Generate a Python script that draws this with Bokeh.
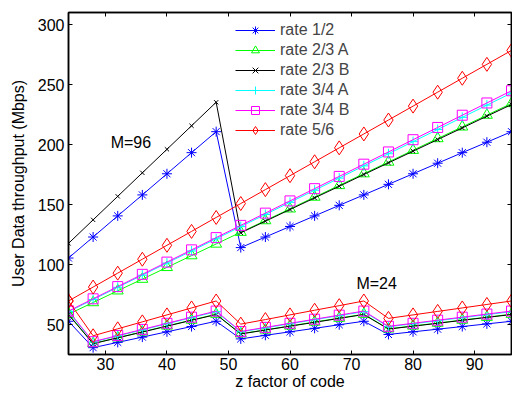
import math
from bokeh.plotting import figure
from bokeh.models import (Range1d, LinearAxis, SingleIntervalTicker, Label,
                          CustomJSTickFormatter)
from bokeh.embed import file_html
from bokeh.resources import INLINE

# ---------------- data ----------------
z_factor = [24, 28, 32, 36, 40, 44, 48, 52, 56, 60, 64, 68, 72, 76, 80, 84, 88, 92, 96]

# M = 96
rate12_m96 = [105.4, 122.9, 140.5, 158.0, 175.6, 193.2, 210.7, 114.1, 122.9, 131.7,
              140.5, 149.3, 158.0, 166.8, 175.6, 184.4, 193.2, 201.9, 210.7]
rate23a_m96 = [58.6, 68.3, 78.1, 87.8, 97.6, 107.4, 117.1, 126.9, 136.6, 146.4,
               156.2, 165.9, 175.7, 185.4, 195.2, 205.0, 214.7, 224.5, 234.2]
rate23b_m96 = [117.6, 137.2, 156.8, 176.4, 196.0, 215.6, 235.2, 126.4, 136.1, 145.8,
               155.5, 165.2, 175.0, 184.7, 194.4, 204.1, 213.8, 223.6, 233.3]
rate34a_m96 = [60.7, 70.8, 81.0, 91.1, 101.2, 111.3, 121.4, 131.6, 141.7, 151.8,
               161.9, 172.0, 182.2, 192.3, 202.4, 212.5, 222.6, 232.8, 242.9]
rate34b_m96 = [61.2, 71.4, 81.6, 91.8, 102.0, 112.2, 122.4, 132.6, 142.8, 153.0,
               163.2, 173.4, 183.6, 193.8, 204.0, 214.2, 224.4, 234.6, 244.8]
rate56_m96 = [69.6, 81.2, 92.8, 104.4, 116.0, 127.6, 139.2, 150.8, 162.4, 174.0,
              185.6, 197.2, 208.8, 220.4, 232.0, 243.6, 255.2, 266.8, 278.4]

# M = 24
rate12_m24 = [52.7, 30.7, 35.1, 39.5, 43.9, 48.3, 52.7, 38.0, 41.0, 43.9,
              46.8, 49.8, 52.7, 41.7, 43.9, 46.1, 48.3, 50.5, 52.7]
rate23a_m24 = [58.6, 34.2, 39.0, 43.9, 48.8, 53.7, 58.6, 42.3, 45.5, 48.8,
               52.1, 55.3, 58.6, 46.4, 48.8, 51.2, 53.7, 56.1, 58.6]
rate23b_m24 = [58.3, 34.0, 38.9, 43.7, 48.6, 53.5, 58.3, 42.1, 45.4, 48.6,
               51.8, 55.1, 58.3, 46.2, 48.6, 51.0, 53.5, 55.9, 58.3]
rate34a_m24 = [60.7, 35.4, 40.5, 45.5, 50.6, 55.7, 60.7, 43.9, 47.2, 50.6,
               54.0, 57.4, 60.7, 48.1, 50.6, 53.1, 55.7, 58.2, 60.7]
rate34b_m24 = [61.2, 35.7, 40.8, 45.9, 51.0, 56.1, 61.2, 44.2, 47.6, 51.0,
               54.4, 57.8, 61.2, 48.5, 51.0, 53.6, 56.1, 58.7, 61.2]
rate56_m24 = [69.6, 40.6, 46.4, 52.2, 58.0, 63.8, 69.6, 50.3, 54.1, 58.0,
              61.9, 65.7, 69.6, 55.1, 58.0, 60.9, 63.8, 66.7, 69.6]

series_names = ["rate 1/2", "rate 2/3 A", "rate 2/3 B", "rate 3/4 A", "rate 3/4 B", "rate 5/6"]
m96_values = [rate12_m96, rate23a_m96, rate23b_m96, rate34a_m96, rate34b_m96, rate56_m96]
m24_values = [rate12_m24, rate23a_m24, rate23b_m24, rate34a_m24, rate34b_m24, rate56_m24]

annotations = [("M=96", 30.85, 201.7), ("M=24", 70.8, 84.4)]

# ---------------- styles ----------------
colors = ["#0000FF", "#00FF00", "#000000", "#00FFFF", "#FF00FF", "#FF0000"]
markers = ["asterisk", "triangle", "x", "cross", "square", "diamond"]
msizes = [10, 11, 6, 10, 10, 14]

FONT = "Liberation Sans"

p = figure(width=512, height=395, output_backend="svg", toolbar_location=None,
           x_range=Range1d(24, 96), y_range=Range1d(25, 310),
           min_border_left=68, min_border_right=1, min_border_top=12,
           min_border_bottom=41)
p.xgrid.visible = False
p.ygrid.visible = False
p.background_fill_color = "white"
p.border_fill_color = "white"
p.outline_line_color = "black"
p.outline_line_width = 1.5

p.xaxis.ticker = SingleIntervalTicker(interval=10, num_minor_ticks=0)
p.yaxis.ticker = SingleIntervalTicker(interval=50, num_minor_ticks=0)
for ax in (p.xaxis[0], p.yaxis[0]):
    ax.major_tick_in = 4
    ax.major_tick_out = 0
    ax.minor_tick_line_color = None
    ax.axis_line_width = 1.5
    ax.major_label_text_font = FONT
    ax.major_label_text_font_size = "16px"
    ax.major_label_text_color = "black"
    ax.axis_label_text_font = FONT
    ax.axis_label_text_font_size = "16px"
    ax.axis_label_text_font_style = "normal"
    ax.axis_label_text_color = "black"
p.xaxis.axis_label = "z factor of code"
p.yaxis.axis_label = "User Data throughput (Mbps)"
p.xaxis.major_label_standoff = 3
p.xaxis.axis_label_standoff = 0
p.yaxis.major_label_standoff = 4
p.yaxis.axis_label_standoff = 8

blank = CustomJSTickFormatter(code="return ''")
top = LinearAxis(ticker=SingleIntervalTicker(interval=10, num_minor_ticks=0),
                 formatter=blank, major_label_standoff=0,
                 major_tick_in=4, major_tick_out=0, minor_tick_line_color=None,
                 axis_line_width=1.5)
right = LinearAxis(ticker=SingleIntervalTicker(interval=50, num_minor_ticks=0),
                   formatter=blank, major_label_standoff=0,
                   major_tick_in=4, major_tick_out=0, minor_tick_line_color=None,
                   axis_line_width=1.5)
p.add_layout(top, "above")
p.add_layout(right, "right")

for i, ys in enumerate(m96_values):
    p.line(z_factor, ys, line_color=colors[i], line_width=1, legend_label=series_names[i])
    p.scatter(z_factor, ys, marker=markers[i], size=msizes[i],
              line_color=colors[i], fill_color=None, line_width=1,
              legend_label=series_names[i])
for i, ys in enumerate(m24_values):
    p.line(z_factor, ys, line_color=colors[i], line_width=1)
    p.scatter(z_factor, ys, marker=markers[i], size=msizes[i],
              line_color=colors[i], fill_color=None, line_width=1)

lg = p.legend[0]
lg.location = (167, 214.5)
lg.glyph_width = 40
lg.glyph_height = 20
lg.label_height = 20
lg.spacing = 0
lg.padding = 0
lg.margin = 0
lg.label_standoff = 5
lg.border_line_color = None
lg.background_fill_color = "white"
lg.background_fill_alpha = 1.0
lg.label_text_font = FONT
lg.label_text_font_size = "16px"

for txt, lx, ly in annotations:
    p.add_layout(Label(x=lx, y=ly, text=txt, text_baseline="middle", text_align="left",
                       text_font=FONT, text_font_size="16px", text_color="black"))

open("out.html", "w").write(file_html(p, INLINE))
